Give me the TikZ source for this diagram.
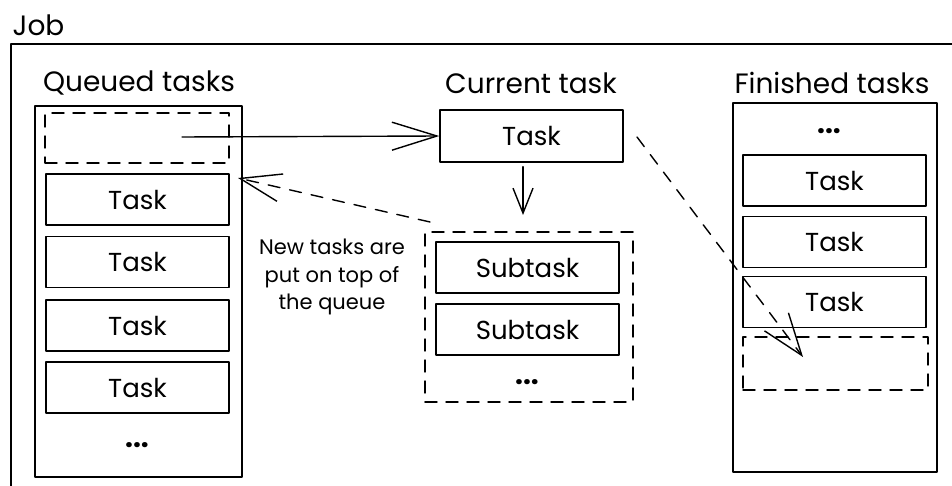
\documentclass[tikz,border=0pt]{standalone}
\usepackage{fontspec}
\setmainfont{Poppins}
\usetikzlibrary{arrows.meta}
\begin{document}
\begin{tikzpicture}[x=1pt,y=-1pt,line width=1.4pt,line cap=round,line join=round,
  title/.style={font=\fontsize{28}{32}\selectfont},
  tasklbl/.style={font=\fontsize{26}{30}\selectfont},
  column/.style={draw,inner sep=0pt},
  taskbox/.style={draw,inner sep=0pt,minimum width=183pt,minimum height=51pt,tasklbl},
  slot/.style={draw,dash pattern=on 12pt off 9pt,inner sep=0pt},
  dots/.style={font=\fontsize{28}{30}\bfseries,inner sep=0pt},
  note/.style={align=center,font=\fontsize{21}{27.5}\selectfont},
  dashline/.style={dash pattern=on 12pt off 10pt},
]
\useasboundingbox (0,0) rectangle (952,486);
\begin{scope}
\clip (0,0) rectangle (952,486);

% job frame, running off the right and bottom edges
\node[anchor=base west,title,inner sep=0pt] (job) at (12,36) {Job};
\draw (11,44) rectangle (975,510);

% queued tasks
\node[title] (qtitle) at (139,83) {Queued tasks};
\node[column,minimum width=207pt,minimum height=371pt] (queue) at (138.5,291.5) {};
\node[slot,minimum width=184pt,minimum height=50pt] (qslot) at (137,138) {};
\node[taskbox] (q1) at (137.5,199.5) {Task};
\node[taskbox] (q2) at (137.5,262) {Task};
\node[taskbox] (q3) at (137.5,325.5) {Task};
\node[taskbox] (q4) at (137.5,387.5) {Task};
\node[dots] (qdots) at (137,445) {...};

% current task
\node[title] (ctitle) at (531,83) {Current task};
\node[taskbox,minimum height=52pt] (cur) at (531.5,136) {Task};
\node[slot,minimum width=208pt,minimum height=170pt] (subs) at (529,317) {};
\node[taskbox] (s1) at (527.5,267.5) {Subtask};
\node[taskbox] (s2) at (527.5,329.5) {Subtask};
\node[dots] (sdots) at (527,382) {...};

% finished tasks
\node[title] (ftitle) at (832,83) {Finished tasks};
\node[column,minimum width=204pt,minimum height=369pt] (done) at (835,287.5) {};
\node[dots] (fdots) at (829,131) {...};
\node[taskbox] (f1) at (834.5,180.5) {Task};
\node[taskbox] (f2) at (834.5,242) {Task};
\node[taskbox] (f3) at (834.5,302) {Task};
\node[slot,minimum width=185pt,minimum height=53pt] (fslot) at (835.5,363.5) {};

% note beside the queue
\node[note] (note) at (332,277) {New tasks are\\put on top of\\the queue};

% connectors
\coordinate (takefrom) at (182,137);
\coordinate (downend) at (523,215);
\coordinate (pushfrom) at (430,222);
\coordinate (pushto) at (238,178);
\coordinate (donefrom) at (637,137);
\coordinate (doneto) at (803,357);

\draw[-{Straight Barb[length=45pt,width=28pt,line width=1.4pt]}] (takefrom) -- (cur.west);
\draw[-{Straight Barb[length=25pt,width=20pt,line width=1.4pt]}] ([yshift=-4pt]downend |- cur.south) -- (downend);
\draw[dashline,-{Straight Barb[length=41pt,width=28pt,line width=1.4pt]}] (pushfrom) -- (pushto);
\draw[dashline,-{Straight Barb[length=42pt,width=30pt,line width=1.4pt]}] (donefrom) -- (doneto);
\end{scope}
\end{tikzpicture}
\end{document}
